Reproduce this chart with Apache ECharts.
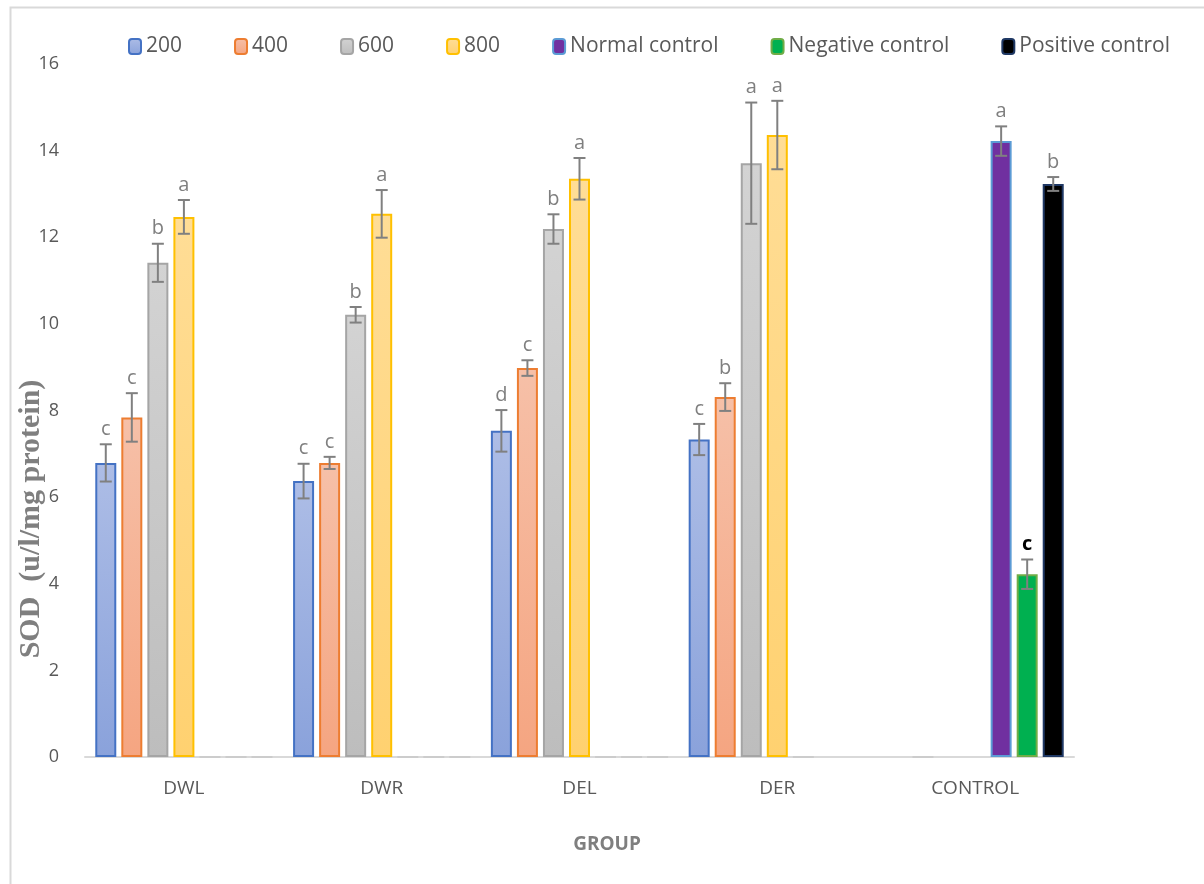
<!DOCTYPE html>
<html>
<head>
<meta charset="utf-8">
<script src="https://cdn.jsdelivr.net/npm/echarts@6/dist/echarts.min.js"></script>
<style>
html,body{margin:0;padding:0;background:#fff;}
#chart{width:1204px;height:884px;}
</style>
</head>
<body>
<div id="chart"></div>
<script>
// ---- data ----
const categories = ['DWL', 'DWR', 'DEL', 'DER', 'CONTROL'];
const seriesNames = ['200', '400', '600', '800', 'Normal control', 'Negative control', 'Positive control'];
const v200 = [6.79, 6.37, 7.53, 7.33, null];
const v400 = [7.84, 6.79, 8.98, 8.31, 0];
const v600 = [11.41, 10.21, 12.19, 13.71, null];
const v800 = [12.47, 12.54, 13.35, 14.36, null];
const vNormal = [0, 0, 0, 0, 14.22];
const vNegative = [0, 0, 0, null, 4.22];
const vPositive = [0, 0, 0, null, 13.23];
const e200 = [0.43, 0.40, 0.48, 0.36, null];
const e400 = [0.56, 0.14, 0.18, 0.32, null];
const e600 = [0.44, 0.18, 0.34, 1.40, null];
const e800 = [0.39, 0.55, 0.48, 0.79, null];
const eNormal = [null, null, null, null, 0.34];
const eNegative = [null, null, null, null, 0.34];
const ePositive = [null, null, null, null, 0.16];
const l200 = ['c', 'c', 'd', 'c', ''];
const l400 = ['c', 'c', 'c', 'b', ''];
const l600 = ['b', 'b', 'b', 'a', ''];
const l800 = ['a', 'a', 'a', 'a', ''];
const lNormal = ['', '', '', '', 'a'];
const lNegative = ['', '', '', '', 'c'];
const lPositive = ['', '', '', '', 'b'];
const yTicks = [0, 2, 4, 6, 8, 10, 12, 14, 16];

// ---- styling ----
const values = [v200, v400, v600, v800, vNormal, vNegative, vPositive];
const errors = [e200, e400, e600, e800, eNormal, eNegative, ePositive];
const letters = [l200, l400, l600, l800, lNormal, lNegative, lPositive];
const grad = (a, b) => ({type: 'linear', x: 0, y: 0, x2: 0, y2: 1, colorStops: [{offset: 0, color: a}, {offset: 1, color: b}]});
const fills = [
  grad('#adbde6', '#8aa2db'),
  grad('#f6c0a8', '#f5a581'),
  grad('#d3d3d3', '#bdbdbd'),
  grad('#ffdd96', '#ffd170'),
  '#7030a0', '#00b050', '#000000'
];
const borders = ['#4472c4', '#ed7d31', '#a5a5a5', '#ffc000', '#5b9bd5', '#70ad47', '#1f3864'];
const BAR_W = 21, BAR_GAP = 0.24;
const PITCH = BAR_W * (1 + BAR_GAP);
const FONT = '"Open Sans", "Liberation Sans", sans-serif';

const series = [];
values.forEach((vals, s) => {
  series.push({
    name: seriesNames[s],
    type: 'bar',
    barWidth: BAR_W,
    barGap: (BAR_GAP * 100) + '%',
    itemStyle: {color: fills[s], borderColor: borders[s], borderWidth: 2},
    emphasis: {disabled: true},
    data: vals.map(v => v === 0 ? {value: 0, itemStyle: {borderColor: '#c8c8c8', borderWidth: 1.5}} : (v === null ? '-' : v)),
    z: 2
  });
});
values.forEach((vals, s) => {
  series.push({
    type: 'custom',
    name: seriesNames[s] + ' err',
    z: 5,
    silent: true,
    data: vals.map((v, i) => [i, v === null ? 0 : v, errors[s][i] === null ? 0 : errors[s][i]]),
    encode: {x: 0, y: 1},
    renderItem: function (params, api) {
      const ci = api.value(0), v = api.value(1), e = api.value(2);
      if (!e) return null;
      const base = api.coord([ci, v]);
      const x = base[0] + (s - 3) * PITCH;
      const yt = api.coord([ci, v + e])[1];
      const yb = api.coord([ci, v - e])[1];
      const st = {stroke: '#808080', lineWidth: 2};
      const lt = letters[s][params.dataIndex];
      const black = s === 5;
      return {
        type: 'group',
        children: [
          {type: 'line', shape: {x1: x, y1: yt, x2: x, y2: yb}, style: st},
          {type: 'line', shape: {x1: x - 6, y1: yt, x2: x + 6, y2: yt}, style: st},
          {type: 'line', shape: {x1: x - 6, y1: yb, x2: x + 6, y2: yb}, style: st},
          {type: 'text', style: {text: lt, x: x, y: yt - 5, align: 'center', verticalAlign: 'bottom',
            fill: black ? '#000000' : '#7f7f7f', fontSize: 20, fontWeight: black ? 'bold' : 'normal', fontFamily: FONT}}
        ]
      };
    }
  });
});

const chart = echarts.init(document.getElementById('chart'));
chart.setOption({
  animation: false,
  backgroundColor: '#ffffff',
  grid: {left: 85, right: 130, top: 64, bottom: 127, containLabel: false},
  legend: {
    data: seriesNames,
    left: 123, top: 31,
    itemWidth: 12, itemHeight: 15, itemGap: 52,
    textStyle: {color: '#595959', fontSize: 21, fontFamily: FONT},
    selectedMode: false
  },
  xAxis: {
    type: 'category',
    data: categories,
    axisLine: {lineStyle: {color: '#d9d9d9', width: 2}},
    axisTick: {show: false},
    axisLabel: {color: '#595959', fontSize: 19, fontFamily: FONT, margin: 22}
  },
  yAxis: {
    type: 'value',
    min: yTicks[0], max: yTicks[yTicks.length - 1], interval: 2,
    axisLine: {show: false},
    axisTick: {show: false},
    splitLine: {show: false},
    axisLabel: {color: '#595959', fontSize: 18, fontFamily: FONT, margin: 26}
  },
  graphic: [
    {type: 'rect', left: 8, top: 5, shape: {width: 1300, height: 1000}, style: {fill: 'none', stroke: '#d9d9d9', lineWidth: 2}, silent: true, z: -1},
    {type: 'text', x: 31, y: 519, rotation: Math.PI / 2,
      style: {text: 'SOD  (u/l/mg protein)', align: 'center', verticalAlign: 'middle', fill: '#7f7f7f',
        fontSize: 30, fontWeight: 'bold', fontFamily: '"Liberation Serif", "DejaVu Serif", serif'}},
    {type: 'text', x: 607, y: 845,
      style: {text: 'GROUP', align: 'center', verticalAlign: 'middle', fill: '#7f7f7f',
        fontSize: 19, fontWeight: 'bold', fontFamily: FONT}}
  ],
  series: series
});
</script>
</body>
</html>
